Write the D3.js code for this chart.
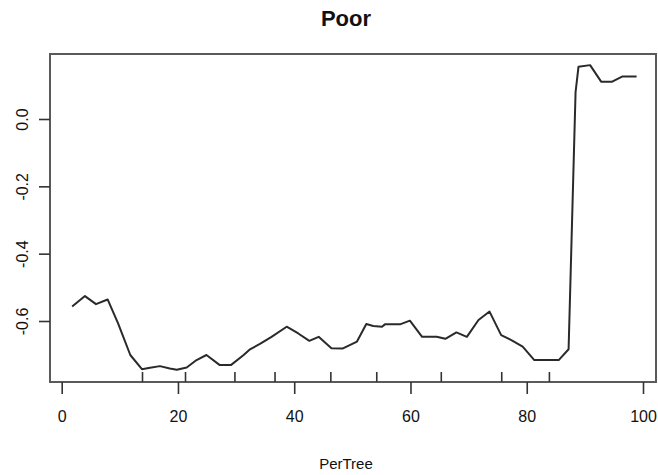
<!DOCTYPE html>
<html>
<head>
<meta charset="utf-8">
<script src="https://cdn.jsdelivr.net/npm/d3@7"></script>
<style>
  html, body { margin: 0; padding: 0; background: #fff; }
  svg { display: block; }
  text { font-family: "Liberation Sans", Arial, sans-serif; fill: #111; }
</style>
</head>
<body>
<svg id="chart" width="658" height="475"></svg>
<script>
// Partial dependence of the "Poor" class on PerTree
const perTree = [1.8, 4.0, 5.9, 7.9, 9.7, 11.8, 13.8, 15.2, 16.9, 18.6, 19.8, 21.5, 23.2, 24.9,
  27.2, 29.1, 31.3, 32.4, 34.1, 36.1, 38.7, 40.7, 42.6, 44.2, 46.4, 48.3, 50.8, 52.4, 53.6,
  55.1, 55.6, 58.2, 59.9, 62.0, 64.5, 66.0, 67.9, 69.7, 71.7, 73.6, 75.6, 77.5, 79.3, 81.3,
  85.5, 87.2, 88.4, 88.9, 90.9, 92.8, 94.7, 96.4, 98.9];
const effect = [-0.557, -0.526, -0.550, -0.536, -0.607, -0.701, -0.743, -0.739, -0.734, -0.741,
  -0.745, -0.738, -0.716, -0.701, -0.731, -0.731, -0.701, -0.684, -0.668, -0.647, -0.617,
  -0.637, -0.659, -0.647, -0.681, -0.682, -0.661, -0.609, -0.615, -0.617, -0.610, -0.610,
  -0.599, -0.647, -0.647, -0.653, -0.634, -0.647, -0.597, -0.572, -0.642, -0.658, -0.676,
  -0.716, -0.716, -0.684, 0.080, 0.155, 0.160, 0.111, 0.111, 0.126, 0.126];
// Decile rug along the bottom of the panel
const rugDeciles = [13.9, 21.3, 29.8, 36.7, 46.3, 54.2, 65.3, 75.7, 83.9];
const xTicks = [0, 20, 40, 60, 80, 100];
const yTicks = [0.0, -0.2, -0.4, -0.6];
const title = "Poor";
const xLabel = "PerTree";

const svg = d3.select("#chart");
const box = { left: 50, right: 656, top: 54, bottom: 382 };

const x = d3.scaleLinear().domain([0, 100]).range([61.7, 643]);
const y = d3.scaleLinear().domain([0, -0.6]).range([119, 321]);

// panel frame
svg.append("rect")
  .attr("x", box.left).attr("y", box.top)
  .attr("width", box.right - box.left).attr("height", box.bottom - box.top)
  .attr("fill", "none").attr("stroke", "#5a5a5a").attr("stroke-width", 2);

// x axis
const xAxis = svg.append("g")
  .attr("transform", `translate(0,${box.bottom})`)
  .call(d3.axisBottom(x).tickValues(xTicks).tickFormat(d3.format("d"))
    .tickSizeInner(12).tickSizeOuter(0).tickPadding(17));
xAxis.select(".domain").remove();
xAxis.selectAll(".tick line").attr("stroke", "#333").attr("stroke-width", 1.6);
xAxis.selectAll(".tick text").style("font-size", "16px").attr("fill", "#111");

// y axis
const yAxis = svg.append("g")
  .attr("transform", `translate(${box.left},0)`)
  .call(d3.axisLeft(y).tickValues(yTicks).tickFormat(d => d3.format(".1f")(d).replace("−", "-"))
    .tickSizeInner(11).tickSizeOuter(0).tickPadding(0));
yAxis.select(".domain").remove();
yAxis.selectAll(".tick line").attr("stroke", "#333").attr("stroke-width", 1.6);
yAxis.selectAll(".tick text")
  .style("font-size", "16px").attr("fill", "#111")
  .attr("text-anchor", "middle")
  .attr("x", 0).attr("dy", 0)
  .attr("transform", "translate(-28,0) rotate(-90)")
  .attr("y", 6);

// rug ticks
svg.append("g").selectAll("line").data(rugDeciles).join("line")
  .attr("x1", d => x(d)).attr("x2", d => x(d))
  .attr("y1", box.bottom).attr("y2", box.bottom - 10)
  .attr("stroke", "#333").attr("stroke-width", 1.6);

// partial dependence curve
const pts = perTree.map((v, i) => [v, effect[i]]);
svg.append("path")
  .datum(pts)
  .attr("fill", "none").attr("stroke", "#2a2a2a").attr("stroke-width", 2)
  .attr("stroke-linejoin", "round")
  .attr("d", d3.line().x(d => x(d[0])).y(d => y(d[1])));

// titles
svg.append("text").attr("x", 346).attr("y", 26).attr("text-anchor", "middle")
  .style("font-size", "22px").style("font-weight", "bold").text(title);
svg.append("text").attr("x", 346).attr("y", 469).attr("text-anchor", "middle")
  .style("font-size", "15px").text(xLabel);
</script>
</body>
</html>
